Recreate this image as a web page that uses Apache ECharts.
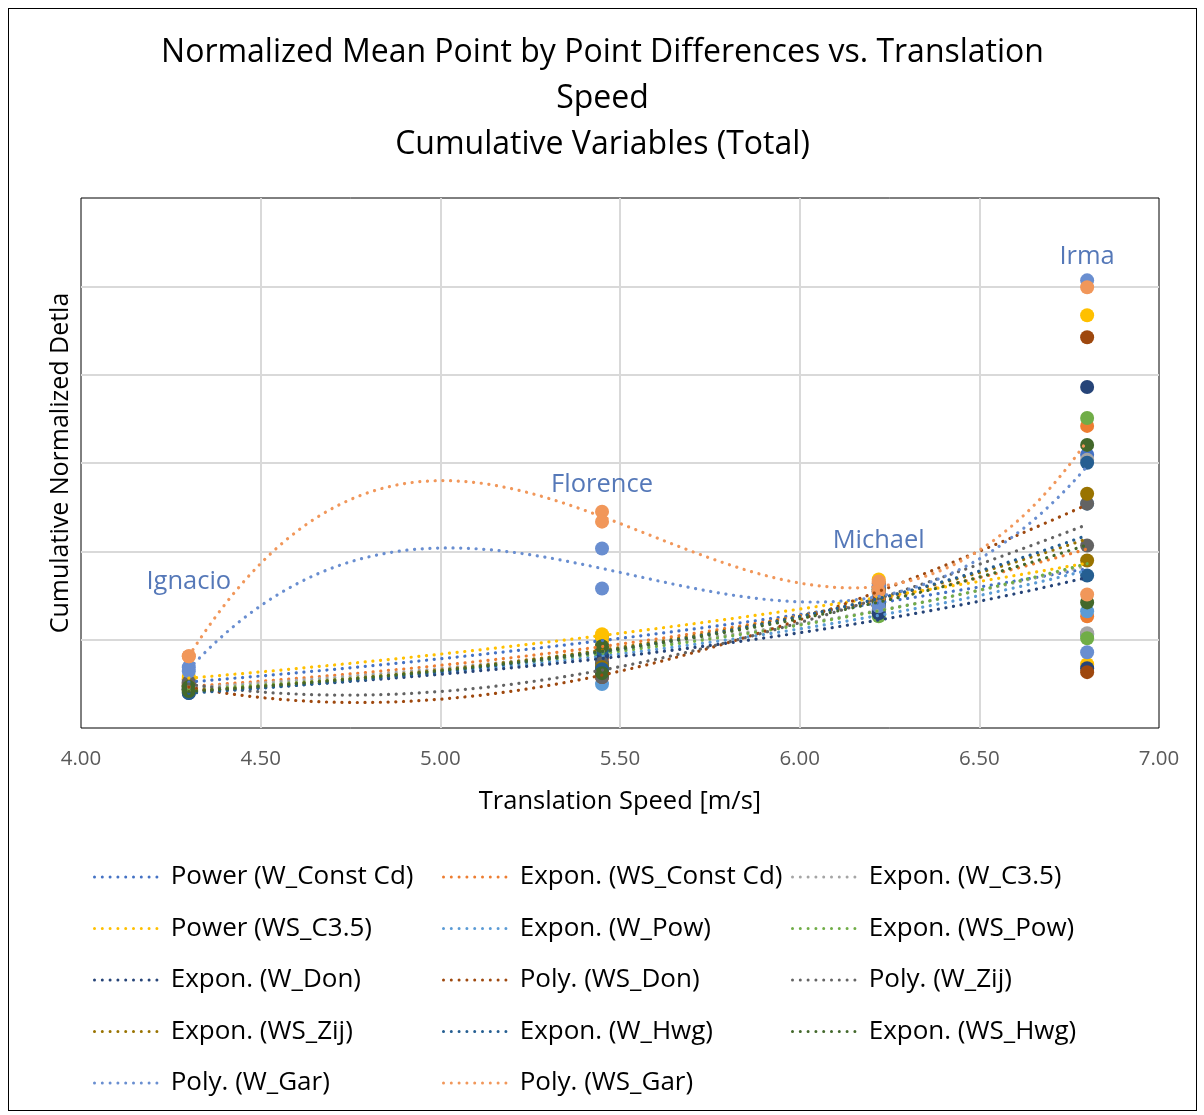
<!DOCTYPE html>
<html>
<head>
<meta charset="utf-8">
<script src="https://cdn.jsdelivr.net/npm/echarts@6/dist/echarts.min.js"></script>
<style>
  html, body { margin: 0; padding: 0; background: #fff; }
  #chart {
    position: absolute; left: 8px; top: 8px;
    width: 1187px; height: 1101px;
    border: 1px solid #000;
  }
</style>
</head>
<body>
<div id="chart"></div>
<script>
// translation speed of each storm, two points per storm
const speeds = [4.3, 4.3, 5.45, 5.45, 6.22, 6.22, 6.8, 6.8];
const storms = ['Ignacio', 'Florence', 'Michael', 'Irma'];
const stormSpeeds = [4.3, 5.45, 6.22, 6.8];
const stormLabelY = [1.66, 2.75, 2.12, 5.34];

// cumulative normalized delta per variable (Ignacio, Florence, Michael, Irma)
const wConstCd  = [0.542, 0.508, 1.027, 0.914, 1.546, 1.321, 3.093, 1.061];
const wsConstCd = [0.508, 0.463, 0.982, 0.779, 1.603, 1.298, 3.420, 1.264];
const wC35      = [0.485, 0.440, 0.926, 0.734, 1.524, 1.298, 3.036, 1.072];
const wsC35     = [0.576, 0.553, 1.061, 1.005, 1.682, 1.377, 4.673, 0.722];
const wPow      = [0.474, 0.440, 0.892, 0.497, 1.490, 1.298, 2.540, 1.321];
const wsPow     = [0.463, 0.429, 0.869, 0.711, 1.456, 1.264, 3.510, 1.016];
const wDon      = [0.429, 0.395, 0.813, 0.666, 1.433, 1.298, 3.860, 0.677];
const wsDon     = [0.485, 0.440, 0.621, 0.576, 1.637, 1.456, 4.424, 0.632];
const wZij      = [0.519, 0.474, 0.734, 0.576, 1.546, 1.388, 2.540, 2.065];
const wsZij     = [0.463, 0.418, 0.903, 0.688, 1.569, 1.388, 2.652, 1.896];
const wHwg      = [0.440, 0.395, 0.892, 0.666, 1.591, 1.388, 3.002, 1.727];
const wsHwg     = [0.463, 0.418, 0.926, 0.621, 1.569, 1.411, 3.205, 1.422];
const wGar      = [0.688, 0.643, 2.032, 1.580, 1.603, 1.377, 5.068, 0.858];
const wsGar     = [0.813, 0.813, 2.449, 2.336, 1.659, 1.546, 4.989, 1.512];

const variables = ['W_Const Cd', 'WS_Const Cd', 'W_C3.5', 'WS_C3.5', 'W_Pow', 'WS_Pow', 'W_Don',
  'WS_Don', 'W_Zij', 'WS_Zij', 'W_Hwg', 'WS_Hwg', 'W_Gar', 'WS_Gar'];
const values = [wConstCd, wsConstCd, wC35, wsC35, wPow, wsPow, wDon, wsDon, wZij, wsZij, wHwg, wsHwg, wGar, wsGar];
const fits = ['power', 'exp', 'exp', 'power', 'exp', 'exp', 'exp', 'poly', 'poly', 'exp', 'exp', 'exp', 'poly', 'poly'];
const fitNames = { power: 'Power', exp: 'Expon.', poly: 'Poly.' };
const colors = ['#4472C4', '#ED7D31', '#A5A5A5', '#FFC000', '#5B9BD5', '#70AD47', '#264478',
  '#9E480E', '#636363', '#997300', '#255E91', '#43682B', '#698ED0', '#F1975A'];

// least squares polynomial fit, returns coefficients c0..cn
function polyFit(xs, ys, order) {
  const n = order + 1;
  const A = [];
  for (let i = 0; i < n; i++) {
    A.push([]);
    for (let j = 0; j < n; j++) A[i].push(xs.reduce((s, x) => s + Math.pow(x, i + j), 0));
    A[i].push(xs.reduce((s, x, k) => s + Math.pow(x, i) * ys[k], 0));
  }
  for (let i = 0; i < n; i++) {
    let p = i;
    for (let r = i + 1; r < n; r++) if (Math.abs(A[r][i]) > Math.abs(A[p][i])) p = r;
    [A[i], A[p]] = [A[p], A[i]];
    for (let r = 0; r < n; r++) {
      if (r === i) continue;
      const f = A[r][i] / A[i][i];
      for (let c = i; c <= n; c++) A[r][c] -= f * A[i][c];
    }
  }
  return A.map((row, i) => row[n] / row[i]);
}

// trendline the same way Excel does it
function trend(ys, type) {
  let f;
  if (type === 'power') {
    const c = polyFit(speeds.map(Math.log), ys.map(Math.log), 1);
    f = x => Math.exp(c[0]) * Math.pow(x, c[1]);
  } else if (type === 'exp') {
    const c = polyFit(speeds, ys.map(Math.log), 1);
    f = x => Math.exp(c[0] + c[1] * x);
  } else {
    const c = polyFit(speeds, ys, 3);
    f = x => c[0] + c[1] * x + c[2] * x * x + c[3] * x * x * x;
  }
  const lo = Math.min(...speeds), hi = Math.max(...speeds);
  const pts = [];
  for (let i = 0; i <= 200; i++) {
    const x = lo + (hi - lo) * i / 200;
    pts.push([x, f(x)]);
  }
  return pts;
}

const font = 'Open Sans';
const dotted = [0.1, 7.6];
// legend icon: a row of round dots like Excel's dotted line sample
let dotIcon = 'path://';
for (let i = 0; i < 9; i++) dotIcon += 'M' + (i * 7.8) + ' 1.5a1.5 1.5 0 1 0 3 0a1.5 1.5 0 1 0 -3 0z ';

const series = [];
values.forEach((ys, i) => {
  series.push({
    name: variables[i],
    type: 'scatter',
    symbolSize: 14,
    itemStyle: { color: colors[i], opacity: 1 },
    data: ys.map((y, k) => [speeds[k], y]),
    z: 2
  });
});
values.forEach((ys, i) => {
  series.push({
    name: fitNames[fits[i]] + ' (' + variables[i] + ')',
    type: 'line',
    symbol: 'none',
    lineStyle: { color: colors[i], width: 3.2, type: dotted, cap: 'round' },
    itemStyle: { color: colors[i] },
    data: trend(ys, fits[i]),
    z: 3
  });
});
series.push({
  type: 'scatter',
  symbolSize: 1,
  itemStyle: { color: 'transparent' },
  label: { show: true, position: 'inside', formatter: p => p.name, fontFamily: font, fontSize: 25.5, color: '#2A56A6' },
  data: storms.map((s, k) => ({ name: s, value: [stormSpeeds[k], stormLabelY[k]] })),
  z: 4
});

const trendNames = values.map((_, i) => fitNames[fits[i]] + ' (' + variables[i] + ')');
const legends = [0, 1, 2].map(col => ({
  orient: 'vertical',
  left: [84, 433, 782][col],
  top: 854,
  padding: 0,
  icon: dotIcon,
  itemWidth: 66,
  itemHeight: 3,
  itemGap: 23.5,
  itemStyle: { borderWidth: 0 },
  textStyle: { fontFamily: font, fontSize: 26, color: '#000', lineHeight: 28, padding: [0, 0, 0, 7] },
  data: trendNames.filter((_, i) => i % 3 === col)
}));

const chart = echarts.init(document.getElementById('chart'));
chart.setOption({
  animation: false,
  title: {
    text: 'Normalized Mean Point by Point Differences vs. Translation\nSpeed\nCumulative Variables (Total)',
    left: 'center',
    top: 21,
    padding: 0,
    textStyle: { fontFamily: font, fontSize: 32, fontWeight: 'normal', color: '#000', lineHeight: 46 }
  },
  legend: legends,
  grid: { left: 72, top: 189, width: 1078, height: 530, show: true, borderColor: '#000', borderWidth: 1 },
  xAxis: {
    type: 'value', min: 4, max: 7, interval: 0.5,
    name: 'Translation Speed [m/s]', nameLocation: 'middle', nameGap: 61,
    nameTextStyle: { fontFamily: font, fontSize: 25.5, color: '#000' },
    axisLine: { show: false }, axisTick: { show: false },
    axisLabel: { formatter: v => v.toFixed(2), fontFamily: font, fontSize: 20.5, color: '#595959', margin: 21 },
    splitLine: { showMinLine: false, showMaxLine: false, lineStyle: { color: '#D9D9D9', width: 2 } }
  },
  yAxis: {
    type: 'value', min: 0, max: 6, interval: 1,
    name: 'Cumulative Normalized Detla', nameLocation: 'middle', nameGap: 8,
    nameTextStyle: { fontFamily: font, fontSize: 25, color: '#000' },
    axisLine: { show: false }, axisTick: { show: false }, axisLabel: { show: false },
    splitLine: { showMinLine: false, showMaxLine: false, lineStyle: { color: '#D9D9D9', width: 2 } }
  },
  series: series
});
</script>
</body>
</html>
